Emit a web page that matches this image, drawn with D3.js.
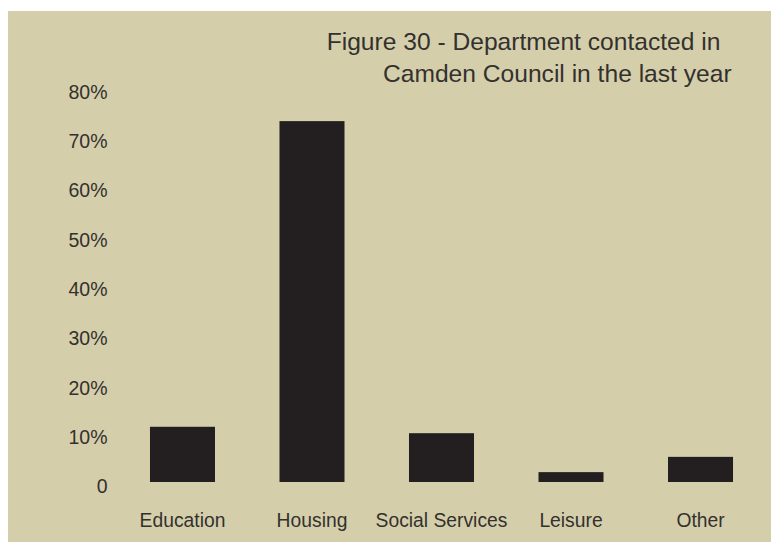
<!DOCTYPE html>
<html>
<head>
<meta charset="utf-8">
<script src="https://cdn.jsdelivr.net/npm/d3@7"></script>
<style>
  html, body { margin: 0; padding: 0; background: #ffffff; }
  svg { display: block; }
  text { font-family: "Liberation Sans", Arial, Helvetica, sans-serif; fill: #33312e; }
</style>
</head>
<body>
<svg id="chart" width="771" height="542"></svg>
<script>
// Department contacted in Camden Council in the last year (% of respondents)
const categories = ["Education", "Housing", "Social Services", "Leisure", "Other"];
const values = [11.2, 73.2, 9.9, 2.0, 5.1];
const tickValues = [0, 10, 20, 30, 40, 50, 60, 70, 80];
const tickLabels = ["0", "10%", "20%", "30%", "40%", "50%", "60%", "70%", "80%"];
const titleLines = ["Figure 30 - Department contacted in", "Camden Council in the last year"];

const svg = d3.select("#chart");
const W = 771, H = 542;

// panel background
svg.append("rect")
  .attr("x", 8).attr("y", 11)
  .attr("width", W - 8).attr("height", H - 11)
  .attr("fill", "#d5ceab");

const x = d3.scaleBand()
  .domain(categories)
  .range([117.6, 765.4])
  .paddingInner(0.498)
  .paddingOuter(0.25);

const y = d3.scaleLinear()
  .domain([0, 80])
  .range([482, 87.6]);

// y axis labels (no axis line or ticks drawn)
const yAxis = d3.axisLeft(y)
  .tickValues(tickValues)
  .tickFormat((d, i) => tickLabels[i])
  .tickSize(0)
  .tickPadding(0);

const yg = svg.append("g")
  .attr("transform", "translate(107.5,0)")
  .call(yAxis);
yg.select(".domain").remove();
yg.selectAll("text")
  .attr("font-size", "19.5px")
  .attr("font-family", null)
  .attr("dy", "10.6px")
  .attr("fill", "#33312e");

// bars
svg.append("g")
  .selectAll("rect")
  .data(values)
  .join("rect")
  .attr("x", (d, i) => x(categories[i]))
  .attr("width", x.bandwidth())
  .attr("y", d => y(d))
  .attr("height", d => y(0) - y(d))
  .attr("fill", "#231f20");

// category labels
const xAxis = d3.axisBottom(x).tickSize(0).tickPadding(0);
const xg = svg.append("g")
  .attr("transform", "translate(0,526.5)")
  .call(xAxis);
xg.select(".domain").remove();
xg.selectAll("text")
  .attr("font-size", "19.3px")
  .attr("font-family", null)
  .attr("dy", "0")
  .attr("y", 0)
  .attr("fill", "#33312e");

// title
const titleX = [326.7, 383];
const titleY = [50, 81.5];
svg.append("g")
  .selectAll("text")
  .data(titleLines)
  .join("text")
  .attr("x", (d, i) => titleX[i])
  .attr("y", (d, i) => titleY[i])
  .attr("font-size", "24.6px")
  .text(d => d);
</script>
</body>
</html>
